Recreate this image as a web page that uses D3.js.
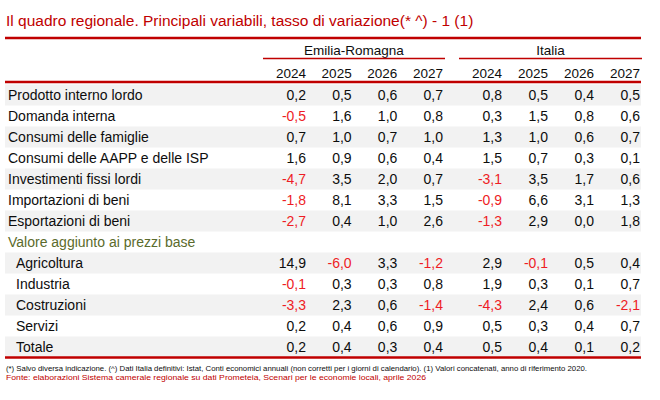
<!DOCTYPE html>
<html>
<head>
<meta charset="utf-8">
<script src="https://cdn.jsdelivr.net/npm/d3@7"></script>
<style>
  body { margin: 0; background: #fff; }
  text { font-family: "Liberation Sans", Arial, sans-serif; }
</style>
</head>
<body>
<div id="table"></div>
<script>
// data
const title = "Il quadro regionale. Principali variabili, tasso di variazione(* ^) - 1 (1)";
const regions = ["Emilia-Romagna", "Italia"];
const years = ["2024", "2025", "2026", "2027"];
const rowLabels = [
    "Prodotto interno lordo",
    "Domanda interna",
    "Consumi delle famiglie",
    "Consumi delle AAPP e delle ISP",
    "Investimenti fissi lordi",
    "Importazioni di beni",
    "Esportazioni di beni",
    "Valore aggiunto ai prezzi base",
    "Agricoltura",
    "Industria",
    "Costruzioni",
    "Servizi",
    "Totale"
];
// 0 = normal row, 1 = section heading, 2 = indented sub-row
const rowKind = [0, 0, 0, 0, 0, 0, 0, 1, 2, 2, 2, 2, 2];
const emiliaRomagna = [
    [0.2, 0.5, 0.6, 0.7],
    [-0.5, 1.6, 1.0, 0.8],
    [0.7, 1.0, 0.7, 1.0],
    [1.6, 0.9, 0.6, 0.4],
    [-4.7, 3.5, 2.0, 0.7],
    [-1.8, 8.1, 3.3, 1.5],
    [-2.7, 0.4, 1.0, 2.6],
    null,
    [14.9, -6.0, 3.3, -1.2],
    [-0.1, 0.3, 0.3, 0.8],
    [-3.3, 2.3, 0.6, -1.4],
    [0.2, 0.4, 0.6, 0.9],
    [0.2, 0.4, 0.3, 0.4]
];
const italia = [
    [0.8, 0.5, 0.4, 0.5],
    [0.3, 1.5, 0.8, 0.6],
    [1.3, 1.0, 0.6, 0.7],
    [1.5, 0.7, 0.3, 0.1],
    [-3.1, 3.5, 1.7, 0.6],
    [-0.9, 6.6, 3.1, 1.3],
    [-1.3, 2.9, 0.0, 1.8],
    null,
    [2.9, -0.1, 0.5, 0.4],
    [1.9, 0.3, 0.1, 0.7],
    [-4.3, 2.4, 0.6, -2.1],
    [0.5, 0.3, 0.4, 0.7],
    [0.5, 0.4, 0.1, 0.2]
];
const footnote = "(*) Salvo diversa indicazione. (^) Dati Italia definitivi: Istat, Conti economici annuali (non corretti per i giorni di calendario). (1) Valori concatenati, anno di riferimento 2020.";
const source = "Fonte: elaborazioni Sistema camerale regionale su dati Prometeia, Scenari per le economie locali, aprile 2026";

const darkRed = "#c00000",
    negRed = "#ee1c25",
    ink = "#0d0d0d",
    olive = "#5b6b2c",
    band = "#f2f2f2";

const width = 660, height = 400;
const left = 5, right = 641;

const svg = d3.select("#table").append("svg")
    .attr("width", width)
    .attr("height", height);

// row positions
const yScale = d3.scaleBand()
    .domain(rowLabels)
    .range([84.5, 357.5]);

// column positions (right edge of each number)
const xScales = [
    d3.scalePoint().domain(years).range([306, 443]),
    d3.scalePoint().domain(years).range([502, 640])
];
const regionData = [emiliaRomagna, italia];

const fmt = function (v) { return d3.format(".1f")(v).replace(".", ",").replace("−", "-"); };

// alternating bands
svg.selectAll("rect.band")
    .data(rowLabels.filter(function (d, i) { return i % 2 === 0; }))
    .enter().append("rect")
    .attr("class", "band")
    .attr("x", left)
    .attr("y", function (d) { return yScale(d); })
    .attr("width", right - left)
    .attr("height", yScale.bandwidth())
    .attr("fill", band);

// title
svg.append("text")
    .attr("x", 6)
    .attr("y", 26)
    .attr("fill", darkRed)
    .style("font-size", "15.5px")
    .text(title);

// thick lines
[38, 82, 357.5].forEach(function (y) {
    svg.append("line")
        .attr("x1", left).attr("x2", right)
        .attr("y1", y).attr("y2", y)
        .attr("stroke", darkRed)
        .attr("stroke-width", 2.5);
});

// region headers
regions.forEach(function (r, k) {
    const xs = xScales[k];
    const x0 = xs(years[0]) - 43, x1 = xs(years[years.length - 1]) + 2;
    svg.append("text")
        .attr("x", (x0 + x1) / 2)
        .attr("y", 55)
        .attr("text-anchor", "middle")
        .attr("fill", ink)
        .style("font-size", "13.5px")
        .text(r);
    svg.append("line")
        .attr("x1", x0).attr("x2", x1)
        .attr("y1", 58.5).attr("y2", 58.5)
        .attr("stroke", darkRed)
        .attr("stroke-width", 1.6);
    svg.selectAll(null)
        .data(years)
        .enter().append("text")
        .attr("x", function (d) { return xs(d); })
        .attr("y", 78)
        .attr("text-anchor", "end")
        .attr("fill", ink)
        .style("font-size", "13.5px")
        .text(function (d) { return d; });
});

// row labels
svg.selectAll("text.label")
    .data(rowLabels)
    .enter().append("text")
    .attr("class", "label")
    .attr("x", function (d, i) { return rowKind[i] === 2 ? 16 : 8; })
    .attr("y", function (d) { return yScale(d) + yScale.bandwidth() / 2 + 5; })
    .attr("fill", function (d, i) { return rowKind[i] === 1 ? olive : ink; })
    .style("font-size", "14px")
    .text(function (d) { return d; });

// values
regionData.forEach(function (data, k) {
    const xs = xScales[k];
    data.forEach(function (vals, i) {
        if (!vals) return;
        svg.selectAll(null)
            .data(vals)
            .enter().append("text")
            .attr("x", function (d, j) { return xs(years[j]); })
            .attr("y", yScale(rowLabels[i]) + yScale.bandwidth() / 2 + 5)
            .attr("text-anchor", "end")
            .attr("fill", function (d) { return d < 0 ? negRed : ink; })
            .style("font-size", "14px")
            .text(fmt);
    });
});

// footer
svg.append("text")
    .attr("x", 6)
    .attr("y", 371)
    .attr("fill", ink)
    .attr("textLength", 581)
    .attr("lengthAdjust", "spacingAndGlyphs")
    .style("font-size", "7.5px")
    .text(footnote);

svg.append("text")
    .attr("x", 6)
    .attr("y", 380)
    .attr("fill", darkRed)
    .attr("textLength", 420)
    .attr("lengthAdjust", "spacingAndGlyphs")
    .style("font-size", "8px")
    .text(source);
</script>
</body>
</html>
